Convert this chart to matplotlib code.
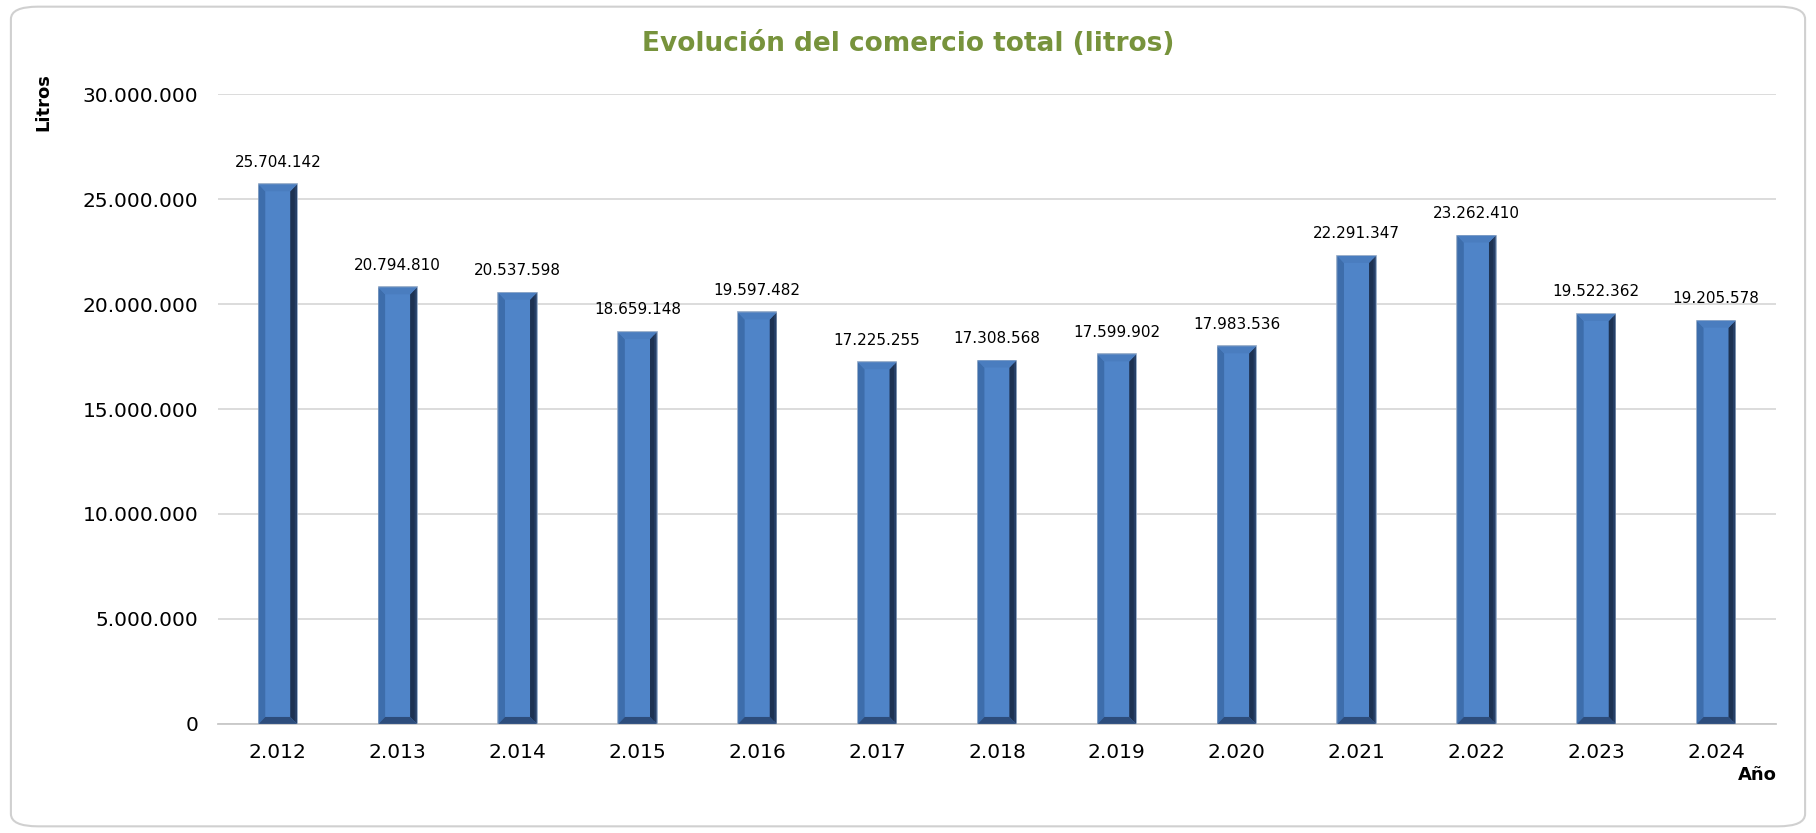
import matplotlib.pyplot as plt
import numpy as np
from matplotlib.patches import FancyBboxPatch, Polygon
from matplotlib.ticker import FuncFormatter

years = ['2.012', '2.013', '2.014', '2.015', '2.016', '2.017', '2.018',
         '2.019', '2.020', '2.021', '2.022', '2.023', '2.024']
litros = [25704142, 20794810, 20537598, 18659148, 19597482, 17225255, 17308568,
          17599902, 17983536, 22291347, 23262410, 19522362, 19205578]


def miles(v):
    return f'{int(v):,}'.replace(',', '.')


fig = plt.figure(figsize=(18.16, 8.33), dpi=100)
fig.patches.append(FancyBboxPatch((0.006, 0.008), 0.988, 0.984,
                                  boxstyle='round,pad=0,rounding_size=0.015',
                                  transform=fig.transFigure, facecolor='white',
                                  edgecolor='#d0d0d0', linewidth=1.5, zorder=-1))
ax = fig.add_axes([0.120, 0.131, 0.858, 0.756])
ax.patch.set_alpha(0)

x = np.arange(len(years))
w = 0.32
bars = ax.bar(x, litros, width=w, color='#4f84c8', edgecolor='#8ea5c4',
              linewidth=1.2, zorder=3)

# bevel faces, sizes derived from the bar geometry
bx = 0.055
by = 330000
for b in bars:
    x0, x1 = b.get_x(), b.get_x() + b.get_width()
    y0, y1 = 0, b.get_height()
    xm0, xm1 = x0 + bx, x1 - bx
    faces = [
        ([(x0, y0), (xm0, y0 + by), (xm0, y1 - by), (x0, y1)], '#3d6dab'),
        ([(x1, y0), (xm1, y0 + by), (xm1, y1 - by), (x1, y1)], '#263f66'),
        ([(x1 - bx * 0.35, y0 + by * 0.35), (xm1, y0 + by), (xm1, y1 - by),
          (x1 - bx * 0.35, y1 - by * 0.35)], '#1d3252'),
        ([(x0, y1), (xm0, y1 - by), (xm1, y1 - by), (x1, y1)], '#4a7dbf'),
        ([(x0, y0), (xm0, y0 + by), (xm1, y0 + by), (x1, y0)], '#2d4d7c'),
    ]
    for pts, c in faces:
        ax.add_patch(Polygon(pts, closed=True, facecolor=c, edgecolor='none', zorder=4))
    ax.annotate(miles(b.get_height()), (b.get_x() + b.get_width() / 2, y1),
                xytext=(0, 16), textcoords='offset points', ha='center', va='center',
                fontsize=11, color='black')

ax.set_ylim(0, 30000000)
ax.set_xlim(-0.5, len(years) - 0.5)
ax.set_yticks(np.arange(0, 30000001, 5000000))
ax.yaxis.set_major_formatter(FuncFormatter(lambda v, p: miles(v)))
ax.set_xticks(x)
ax.set_xticklabels(years)
ax.tick_params(axis='both', length=0, labelsize=14.5)
ax.tick_params(axis='x', pad=14)
ax.tick_params(axis='y', pad=14)
ax.grid(axis='y', color='#d9d9d9', linewidth=1.3, zorder=0)
for s in ['top', 'right', 'left']:
    ax.spines[s].set_visible(False)
ax.spines['bottom'].set_color('#c8c8c8')
ax.spines['bottom'].set_linewidth(1.3)

fig.text(0.5, 0.947, 'Evolución del comercio total (litros)', ha='center', va='center',
         fontsize=19, fontweight='bold', color='#77933c')
fig.text(0.024, 0.877, 'Litros', rotation=90, ha='center', va='center',
         fontsize=13, fontweight='bold')
fig.text(0.9675, 0.07, 'Año', ha='center', va='center', fontsize=13, fontweight='bold')

fig.savefig('out.png', dpi=100)
